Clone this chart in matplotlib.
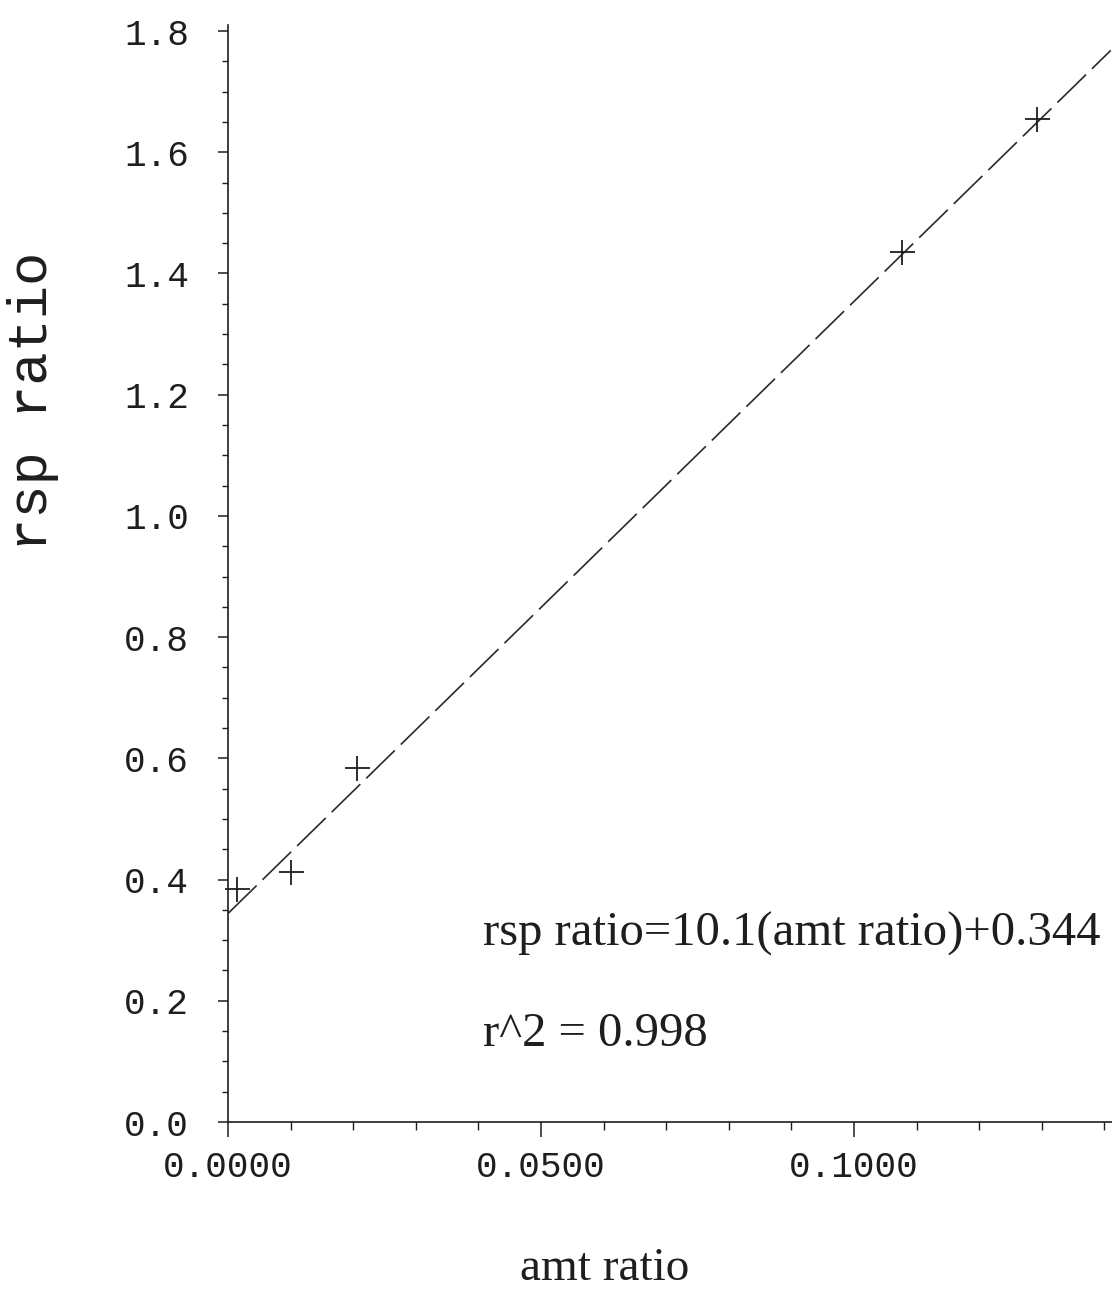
import matplotlib
matplotlib.use("Agg")
import matplotlib.pyplot as plt
from matplotlib.ticker import MultipleLocator, FormatStrFormatter

# calibration points
amt_ratio = [0.0015, 0.0100, 0.0206, 0.1077, 0.1293]
rsp_ratio = [0.384, 0.413, 0.584, 1.435, 1.655]

# regression line as printed on the chart
slope = 10.1
intercept = 0.344
r_squared = 0.998
fit_x = [0.0, 0.141]

x_major = [0.0, 0.05, 0.10]
y_major = [0.0, 0.2, 0.4, 0.6, 0.8, 1.0, 1.2, 1.4, 1.6, 1.8]

ink = "#1e1e1e"
mono = ["Liberation Mono", "DejaVu Sans Mono"]
serif = ["Liberation Serif", "DejaVu Serif"]

fig = plt.figure(figsize=(11.12, 12.93), dpi=100)
ax = fig.add_axes([228 / 1112, 1 - 1122 / 1293, 884 / 1112, 1097 / 1293])

fit_y = [slope * x + intercept for x in fit_x]
ax.plot(fit_x, fit_y, color="#2a2a2a", lw=1.2, dashes=(24, 5))
ax.plot(amt_ratio, rsp_ratio, "+", ms=18, mew=1.3, color=ink, clip_on=False)

ax.set_xlim(0, 0.1412)
ax.set_ylim(0, 1.81)

for side in ["top", "right"]:
    ax.spines[side].set_visible(False)
for side in ["left", "bottom"]:
    ax.spines[side].set_color(ink)
    ax.spines[side].set_linewidth(1.2)

ax.set_xticks(x_major)
ax.set_yticks(y_major)
ax.xaxis.set_major_formatter(FormatStrFormatter("%.4f"))
ax.yaxis.set_major_formatter(FormatStrFormatter("%.1f"))
ax.xaxis.set_minor_locator(MultipleLocator(0.01))
ax.yaxis.set_minor_locator(MultipleLocator(0.05))

ax.tick_params(axis="x", which="major", direction="out", length=11, width=1.1,
               pad=9, colors=ink, labelsize=26)
ax.tick_params(axis="x", which="minor", direction="out", length=6, width=1.0, colors=ink)
ax.tick_params(axis="y", which="major", direction="out", length=7, width=1.1,
               pad=21, colors=ink, labelsize=26)
ax.tick_params(axis="y", which="minor", direction="out", length=4, width=1.0, colors=ink)
for lab in ax.get_xticklabels() + ax.get_yticklabels():
    lab.set_family(mono)

ax.text(0.2885, 0.1604, f"rsp ratio={slope}(amt ratio)+{intercept}",
        transform=ax.transAxes, family=serif, size=35, color=ink, va="baseline")
ax.text(0.2885, 0.0693, f"r^2 = {r_squared}",
        transform=ax.transAxes, family=serif, size=35, color=ink, va="baseline")

fig.text(605 / 1112, 3 / 1293, "amt ratio", family=serif, size=34,
         color=ink, ha="center", va="bottom")
fig.text(33 / 1112, 1 - 401 / 1293, "rsp ratio", family=mono, size=40,
         color=ink, rotation=90, ha="center", va="center")

fig.savefig("out.png", dpi=100, facecolor="white")
